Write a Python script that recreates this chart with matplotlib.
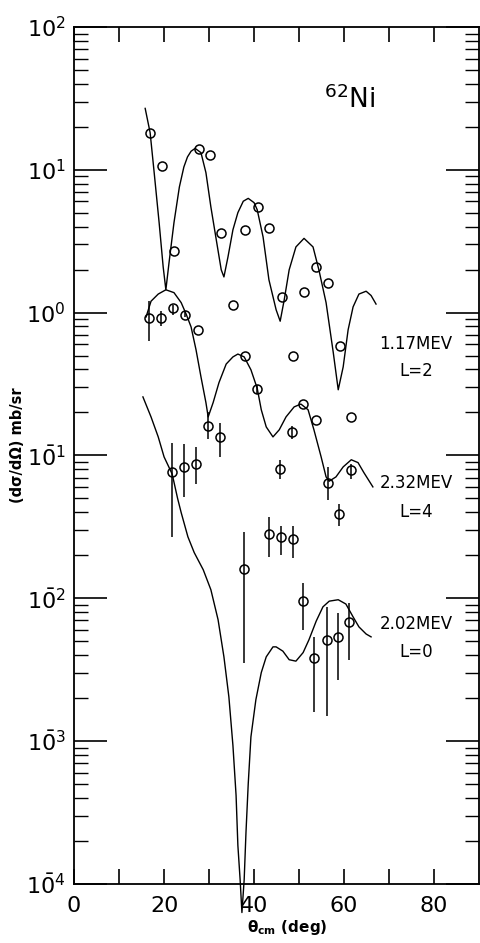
import numpy as np
import matplotlib
matplotlib.use('Agg')
from matplotlib import pyplot as plt
from matplotlib.ticker import LogLocator, FuncFormatter, NullFormatter

plt.rcParams['font.family'] = ['DejaVu Sans']
plt.rcParams['mathtext.fontset'] = 'dejavusans'

# theory curves: angle (deg) and log10 of cross section
l2_curve_deg = [15.8, 16.9, 17.8, 18.9, 19.8, 20.4, 21.1, 22.2, 23.4, 24.4, 25.2, 26.0, 26.9, 28.2, 29.3,
                30.4, 31.6, 32.7, 33.3, 34.2, 35.3, 36.4, 37.6, 38.7, 40.0, 40.7, 42.0, 43.3, 44.9,
                45.8, 46.7, 47.8, 49.3, 51.1, 53.1, 54.4, 56.0, 57.6, 58.7, 59.8, 60.9, 62.0, 63.3,
                64.9, 66.0, 67.1]
l2_curve_log10 = [1.43, 1.26, 0.98, 0.63, 0.32, 0.16, 0.35, 0.63, 0.88, 1.02, 1.09, 1.13, 1.15, 1.12, 0.98,
                  0.74, 0.51, 0.30, 0.25, 0.39, 0.58, 0.70, 0.78, 0.80, 0.77, 0.72, 0.53, 0.23, 0.02,
                  -0.06, 0.09, 0.30, 0.46, 0.52, 0.46, 0.30, 0.07, -0.28, -0.54, -0.38, -0.12, 0.04, 0.13,
                  0.15, 0.12, 0.06]

l4_curve_deg = [16.0, 17.1, 18.7, 20.4, 22.2, 23.8, 24.9, 26.0, 27.1, 28.2, 29.3, 29.8, 30.9, 32.2,
                33.8, 35.3, 36.4, 37.8, 39.3, 40.7, 41.6, 42.7, 44.2, 45.6, 47.1, 48.9, 50.4, 52.0,
                53.3, 54.9, 56.0, 56.7, 58.2, 59.8, 61.6, 63.1, 64.4, 66.4]
l4_curve_log10 = [-0.03, 0.08, 0.13, 0.16, 0.14, 0.07, -0.01, -0.10, -0.26, -0.45, -0.63, -0.73, -0.63, -0.49,
                  -0.36, -0.31, -0.29, -0.31, -0.40, -0.53, -0.68, -0.80, -0.87, -0.82, -0.73, -0.66, -0.64, -0.68,
                  -0.82, -1.01, -1.15, -1.18, -1.15, -1.08, -1.03, -1.05, -1.12, -1.22]

l0_curve_deg = [15.3, 17.1, 18.7, 20.0, 21.8, 23.0, 23.8, 25.3, 26.7, 28.7, 30.4, 32.0, 33.3, 34.4,
                35.3, 36.0, 36.4, 36.9, 37.3, 37.8, 38.2, 38.7, 39.3, 40.4, 41.6, 42.7, 44.2, 44.9,
                46.4, 47.8, 49.3, 50.9, 52.2, 53.8, 55.3, 56.7, 58.7, 60.4, 62.0, 63.3, 64.9, 66.0]
l0_curve_log10 = [-0.59, -0.73, -0.87, -1.01, -1.13, -1.30, -1.40, -1.57, -1.68, -1.80, -1.94, -2.15, -2.41, -2.69,
                  -3.03, -3.38, -3.73, -3.97, -4.20, -3.97, -3.64, -3.30, -2.97, -2.71, -2.52, -2.41, -2.34, -2.34,
                  -2.37, -2.43, -2.44, -2.38, -2.29, -2.16, -2.06, -2.02, -2.01, -2.04, -2.13, -2.20, -2.25, -2.27]

# measured points (mb/sr)
l2_x = [16.9, 19.5, 22.2, 27.7, 30.3, 32.7, 35.4, 38.0, 40.8, 43.4, 46.1, 48.7, 51.2, 53.8, 56.5, 59.1, 61.6]
l2_y = [18.2, 10.6, 2.7, 14.0, 12.6, 3.6, 1.14, 3.8, 5.5, 3.9, 1.29, 0.50, 1.4, 2.1, 1.6, 0.58, 0.186]

l4_x = [16.6, 19.3, 22.0, 24.7, 27.5, 29.8, 32.5, 38.0, 40.7, 45.8, 48.4, 50.9, 53.8, 56.4, 58.9, 61.6]
l4_y = [0.92, 0.92, 1.07, 0.97, 0.75, 0.162, 0.135, 0.50, 0.29, 0.081, 0.145, 0.23, 0.176, 0.064, 0.039, 0.079]
l4_lo = [0.63, 0.80, 0.97, 0.93, 0.75, 0.13, 0.098, 0.50, 0.27, 0.068, 0.13, 0.23, 0.176, 0.049, 0.032, 0.068]
l4_hi = [1.2, 1.02, 1.14, 1.02, 0.75, 0.20, 0.17, 0.50, 0.31, 0.093, 0.16, 0.23, 0.176, 0.083, 0.046, 0.087]

l0_x = [21.8, 24.5, 27.2, 37.8, 43.3, 46.0, 48.6, 50.9, 53.4, 56.2, 58.7, 61.2]
l0_y = [0.076, 0.083, 0.087, 0.016, 0.028, 0.027, 0.026, 0.0095, 0.0038, 0.0051, 0.0054, 0.0068]
l0_lo = [0.027, 0.051, 0.063, 0.0035, 0.0195, 0.020, 0.019, 0.0060, 0.0016, 0.0015, 0.0027, 0.0037]
l0_hi = [0.123, 0.12, 0.115, 0.029, 0.037, 0.032, 0.032, 0.0129, 0.0054, 0.0087, 0.0079, 0.0093]

fig = plt.figure(figsize=(4.81, 9.43), dpi=100)
ax = fig.add_axes([0.154, 0.0626, 0.842, 0.9088])

lw = 1.0
ax.plot(l2_curve_deg, 10 ** np.array(l2_curve_log10), color='black', lw=lw)
ax.plot(l4_curve_deg, 10 ** np.array(l4_curve_log10), color='black', lw=lw)
ax.plot(l0_curve_deg, 10 ** np.array(l0_curve_log10), color='black', lw=lw, clip_on=False)

mk = dict(fmt='o', ms=6.5, mfc='none', mec='black', mew=1.1, ecolor='black', elinewidth=1.1, capsize=0)
ax.plot(l2_x, l2_y, 'o', ms=6.5, mfc='none', mec='black', mew=1.1)
for xs, ys, lo, hi in [(l4_x, l4_y, l4_lo, l4_hi), (l0_x, l0_y, l0_lo, l0_hi)]:
    ys = np.array(ys)
    ax.errorbar(xs, ys, yerr=[ys - np.array(lo), np.array(hi) - ys], **mk)

ax.set_xlim(0, 90)
ax.set_yscale('log')
ax.set_ylim(1e-4, 1e2)

def ylab(v, pos):
    e = int(round(np.log10(v)))
    if e < 0:
        return r'$\mathregular{1\bar{0}^{%d}}$' % (-e)
    return r'$\mathregular{10^{%d}}$' % e

ax.yaxis.set_major_locator(LogLocator(base=10, numticks=10))
ax.yaxis.set_minor_locator(LogLocator(base=10, subs=range(2, 10), numticks=20))
ax.yaxis.set_major_formatter(FuncFormatter(ylab))
ax.yaxis.set_minor_formatter(NullFormatter())
ax.tick_params(axis='y', which='major', direction='in', length=24, width=1.2, right=True, labelsize=16, pad=6)
ax.tick_params(axis='y', which='minor', direction='in', length=10, width=1.0, right=True)

ax.set_xticks([0, 20, 40, 60, 80])
ax.set_xticks([10, 30, 50, 70], minor=True)
ax.xaxis.set_minor_formatter(NullFormatter())
ax.tick_params(axis='x', which='both', direction='in', length=11, width=1.2, top=True, labelsize=16, pad=9)

for s in ax.spines.values():
    s.set_linewidth(1.3)

ax.text(55.6, 31, r'$^{\mathregular{62}}$Ni', fontsize=19, ha='left', va='center')
ax.text(76, 0.60, '1.17MEV', fontsize=12, ha='center', va='center')
ax.text(76, 0.39, 'L=2', fontsize=12, ha='center', va='center')
ax.text(76, 0.064, '2.32MEV', fontsize=12, ha='center', va='center')
ax.text(76, 0.040, 'L=4', fontsize=12, ha='center', va='center')
ax.text(76, 0.0066, '2.02MEV', fontsize=12, ha='center', va='center')
ax.text(76, 0.0042, 'L=0', fontsize=12, ha='center', va='center')

fig.text(0.036, 0.528, '(dσ/dΩ) mb/sr', rotation=90, ha='center', va='center', fontsize=10.5, fontweight='bold')
fig.text(0.597, 0.016, r'$\mathbf{\theta_{cm}}$ (deg)', ha='center', va='center', fontsize=11, fontweight='bold')

fig.savefig('out.png', dpi=100)
